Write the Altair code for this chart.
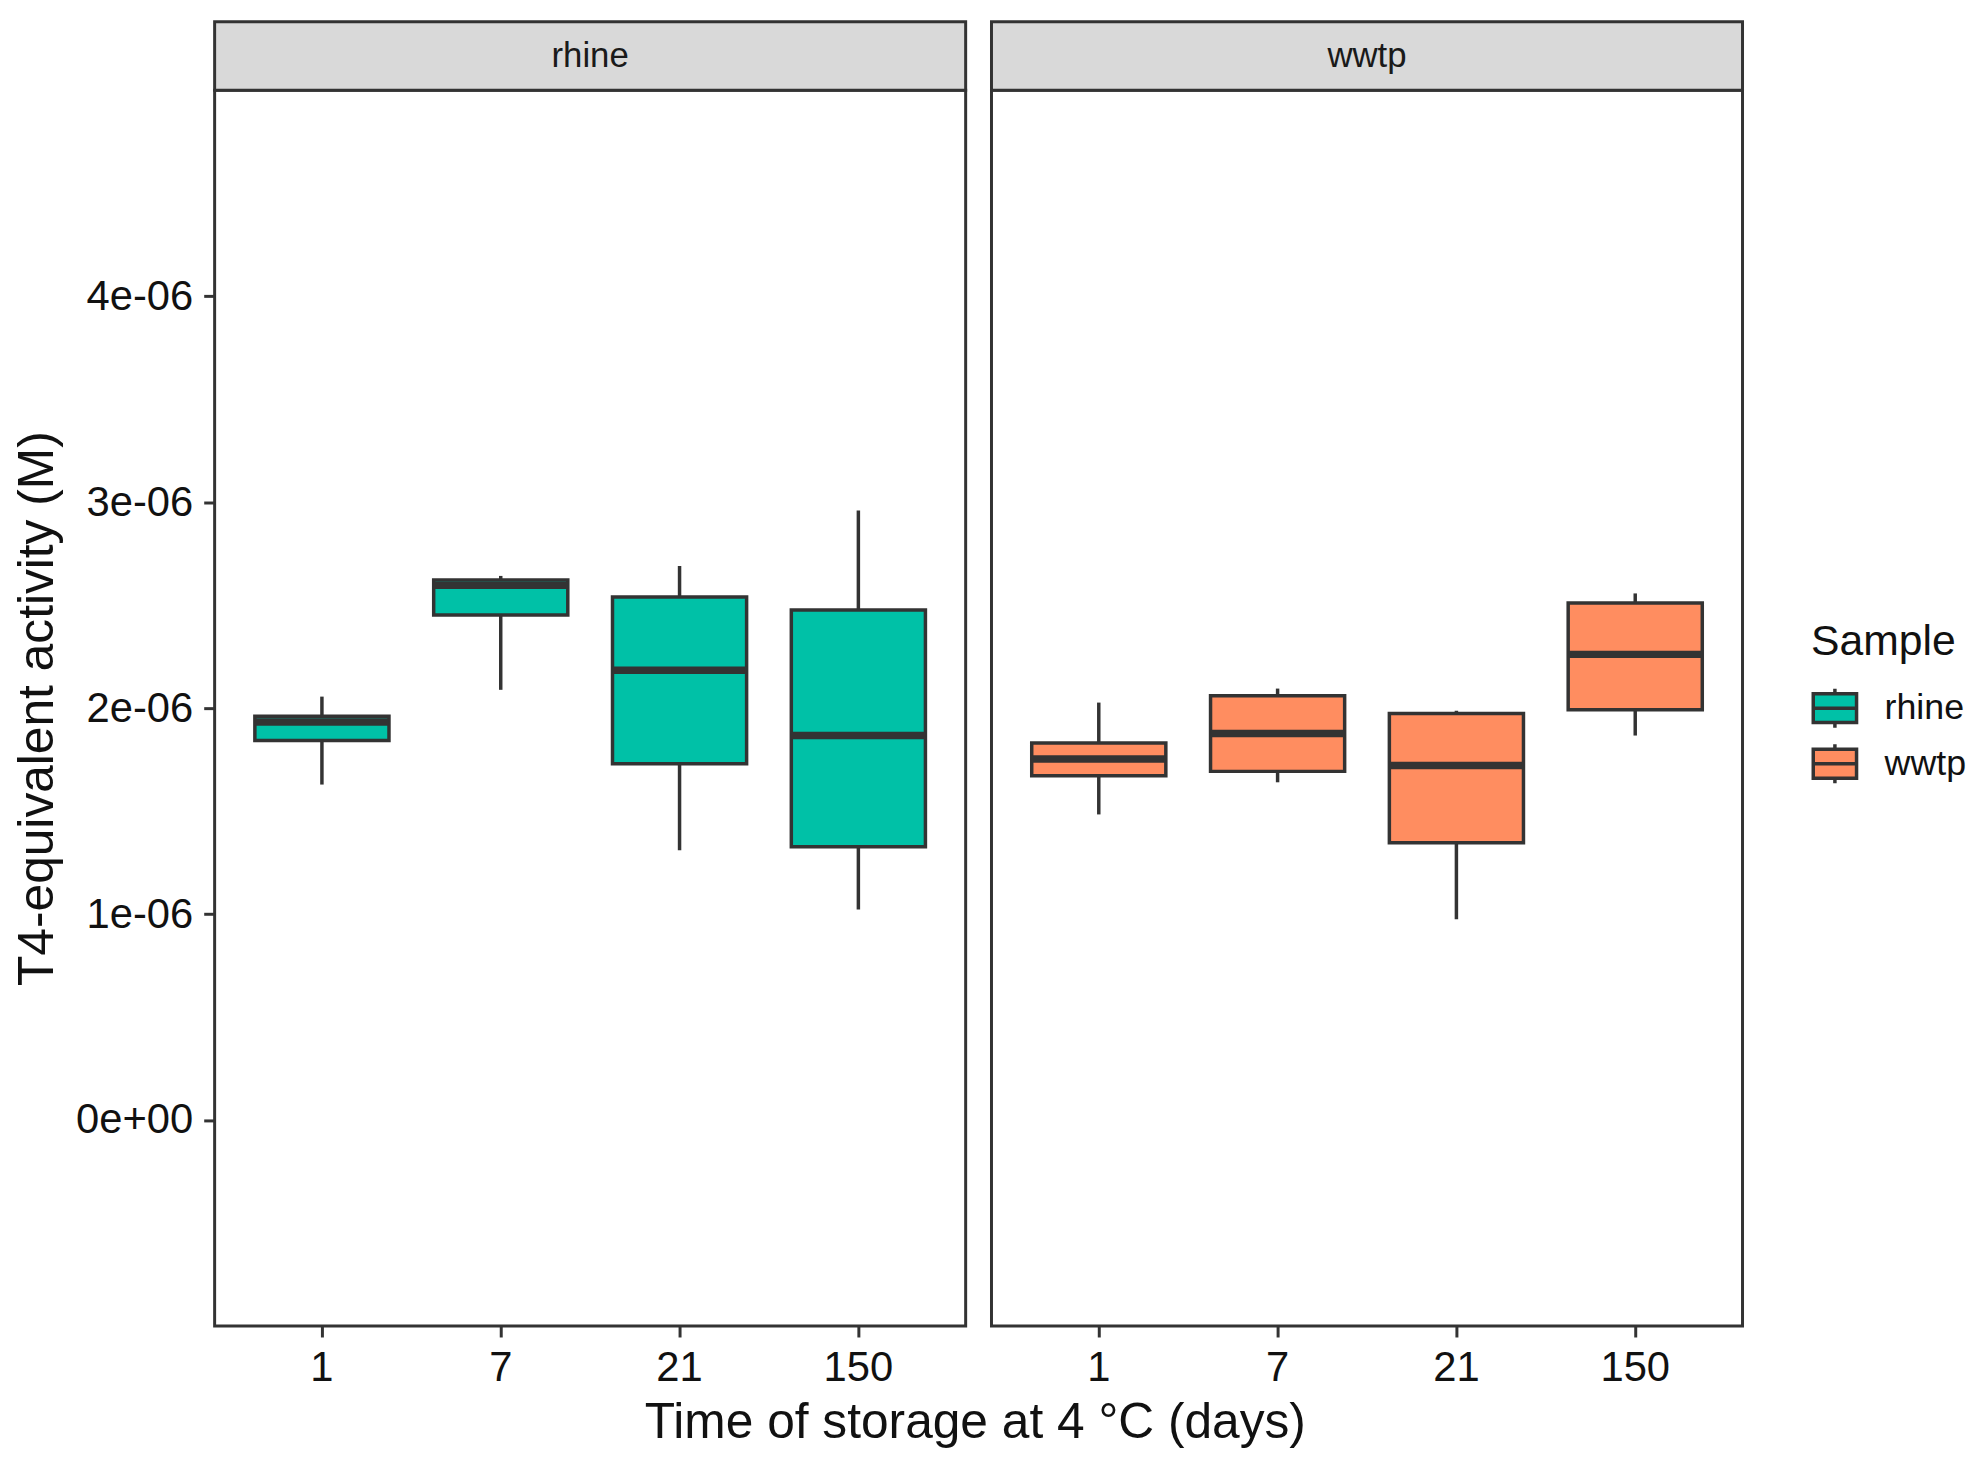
import altair as alt
import pandas as pd

# ---- data ----
days = ['1', '7', '21', '150']
samples = ['rhine', 'wwtp']
colors = ['#00C1A7', '#FF8D60']

rhine_lo = [1.629e-6, 2.089e-6, 1.310e-6, 1.023e-6]
rhine_q1 = [1.843e-6, 2.452e-6, 1.730e-6, 1.327e-6]
rhine_med = [1.933e-6, 2.596e-6, 2.184e-6, 1.867e-6]
rhine_q3 = [1.961e-6, 2.622e-6, 2.540e-6, 2.476e-6]
rhine_hi = [2.056e-6, 2.642e-6, 2.690e-6, 2.960e-6]

wwtp_lo = [1.484e-6, 1.640e-6, 0.975e-6, 1.867e-6]
wwtp_q1 = [1.672e-6, 1.693e-6, 1.347e-6, 1.992e-6]
wwtp_med = [1.753e-6, 1.877e-6, 1.722e-6, 2.261e-6]
wwtp_q3 = [1.831e-6, 2.060e-6, 1.974e-6, 2.511e-6]
wwtp_hi = [2.027e-6, 2.095e-6, 1.987e-6, 2.557e-6]

y_ticks = [0, 1e-6, 2e-6, 3e-6, 4e-6]
y_title = 'T4-equivalent activity (M)'
x_title = 'Time of storage at 4 \u00b0C (days)'
legend_title = 'Sample'

# ---- styling ----
FONT = 'Liberation Sans'
DARK = '#333333'
W, H = 756, 1244
STRIP = 69
P_IN, P_OUT = 0.25, 0.225
BANDW = W / (len(days) - P_IN + 2 * P_OUT) * (1 - P_IN)

BOX_ICON = 'M-1,-0.667H1V0.667H-1Z M-1,0H1 M0,-0.667V-0.9 M0,0.667V0.9'

legend = alt.Legend(
    title=legend_title, orient='none', legendX=1607, legendY=535,
    symbolType=BOX_ICON, symbolSize=1900, symbolStrokeColor=DARK,
    symbolStrokeWidth=3.5, labelFontSize=36, titleFontSize=43,
    titleFontWeight='normal', labelOffset=26, rowPadding=2,
    titlePadding=20, labelColor='#111111', titleColor='#111111',
    labelFont=FONT, titleFont=FONT)


def make_df(name, lo, q1, med, q3, hi):
    return pd.DataFrame({'sample': name, 'day': days, 'lo': lo, 'q1': q1,
                         'med': med, 'q3': q3, 'hi': hi})


def panel(name, df, show_y):
    xenc = alt.X('day:N', sort=days,
                 scale=alt.Scale(domain=days, paddingInner=P_IN, paddingOuter=P_OUT),
                 axis=alt.Axis(title=None, labelAngle=0, labelFontSize=42,
                               labelColor='#111111', tickSize=11, tickWidth=3,
                               tickColor=DARK, domain=False, labelPadding=11,
                               labelFont=FONT, grid=False))
    yscale = alt.Scale(domain=[-1e-6, 5e-6], nice=False, zero=False)
    if show_y:
        yaxis = alt.Axis(values=y_ticks,
                         labelExpr="datum.value == 0 ? '0e+00' : round(datum.value * 1e6) + 'e-06'",
                         tickSize=11, tickWidth=3, tickColor=DARK, domain=False,
                         labelFontSize=42, labelColor='#111111', labelPadding=11,
                         title=y_title, titleFontSize=50, titleFontWeight='normal',
                         titleColor='#111111', titlePadding=13, labelFont=FONT,
                         titleFont=FONT, grid=False)
    else:
        yaxis = None

    strip_df = pd.DataFrame({'panel': [name]})
    strip = alt.Chart(strip_df).mark_rect(
        fill='#D9D9D9', stroke=DARK, strokeWidth=3).encode(
        x=alt.value(0), x2=alt.value(W), y=alt.value(-STRIP), y2=alt.value(0))
    strip_txt = alt.Chart(strip_df).mark_text(
        fontSize=35, font=FONT, color='#1a1a1a', baseline='middle').encode(
        x=alt.value(W / 2), y=alt.value(-STRIP / 2), text='panel:N')

    base = alt.Chart(df)
    whisker = base.mark_rule(color=DARK, strokeWidth=3.5).encode(
        x=xenc, y=alt.Y('lo:Q', scale=yscale, axis=yaxis), y2='hi:Q')
    box = base.mark_bar(stroke=DARK, strokeWidth=3.5).encode(
        x=xenc, y=alt.Y('q1:Q', scale=yscale), y2='q3:Q',
        fill=alt.Fill('sample:N', scale=alt.Scale(domain=samples, range=colors),
                      legend=legend))
    median = base.mark_tick(color=DARK, thickness=7.5, size=BANDW,
                            orient='horizontal', opacity=1).encode(
        x=xenc, y=alt.Y('med:Q', scale=yscale))

    return alt.layer(strip, strip_txt, whisker, box, median).properties(
        width=W, height=H)


left = panel('rhine', make_df('rhine', rhine_lo, rhine_q1, rhine_med, rhine_q3, rhine_hi), True)
right = panel('wwtp', make_df('wwtp', wwtp_lo, wwtp_q1, wwtp_med, wwtp_q3, wwtp_hi), False)

chart = alt.hconcat(left, right, spacing=20).resolve_scale(
    fill='shared').resolve_legend(fill='shared').properties(
    title=alt.TitleParams(x_title, orient='bottom', anchor='middle', fontSize=50,
                          fontWeight='normal', font=FONT, color='#111111',
                          offset=8, dx=-14),
    padding={'left': 3, 'top': 6, 'right': 5, 'bottom': 0}
).configure(font=FONT, background='white').configure_view(
    stroke=DARK, strokeWidth=3).configure_axis(grid=False)

chart.save('out.html', embed_options={'renderer': 'svg', 'actions': False})
